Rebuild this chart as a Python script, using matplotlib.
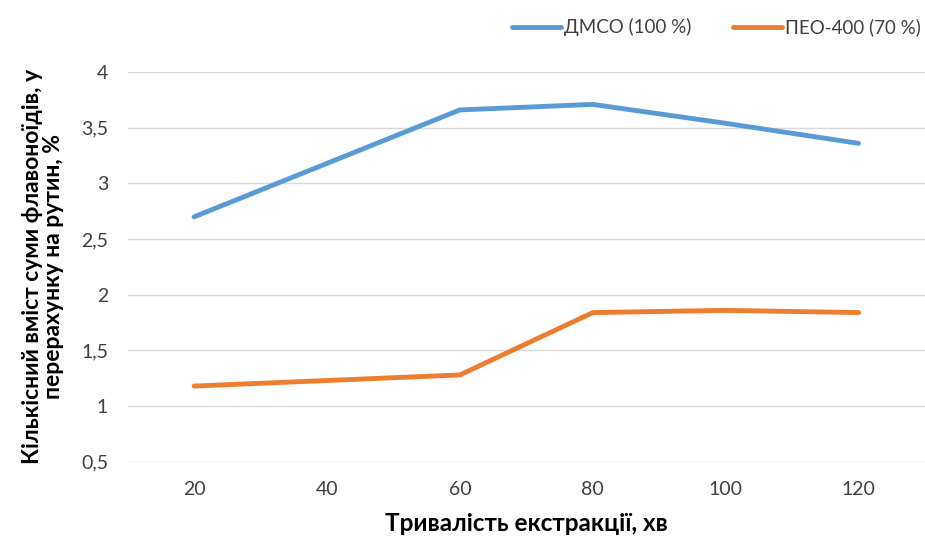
import matplotlib.pyplot as plt

minutes = [20, 40, 60, 80, 100, 120]
dmso = [2.70, 3.18, 3.66, 3.71, 3.54, 3.36]
peo = [1.18, 1.23, 1.28, 1.84, 1.86, 1.84]
yticks = [0.5, 1, 1.5, 2, 2.5, 3, 3.5, 4]

plt.rcParams['font.family'] = ['Lato', 'DejaVu Sans']

fig = plt.figure(figsize=(9.25, 5.42), dpi=100)
ax = fig.add_axes([0.138, 0.148, 0.862, 0.719])

ax.plot(minutes, dmso, color='#5B9BD5', lw=3.5, solid_capstyle='round', label='ДМСО (100 %)')
ax.plot(minutes, peo, color='#ED7D31', lw=3.5, solid_capstyle='round', label='ПЕО-400 (70 %)')

ax.set_xlim(10, 130)
ax.set_ylim(0.5, 4)
ax.set_xticks(minutes)
ax.set_yticks(yticks)
ax.set_yticklabels([str(v).replace('.', ',') for v in yticks])
ax.grid(axis='y', color='#D9D9D9', lw=1)
ax.set_axisbelow(True)
for s in ax.spines.values():
    s.set_visible(False)
ax.tick_params(length=0, labelsize=14, labelcolor='#404040')
ax.tick_params(axis='y', pad=14)
ax.tick_params(axis='x', pad=14)

ax.set_xlabel('Тривалість екстракції, хв', fontsize=17.5, fontweight='bold', labelpad=10)
ax.set_ylabel('Кількісний вміст суми флавоноїдів, у\nперерахунку на рутин, %',
              fontsize=16.5, fontweight='bold', labelpad=12, linespacing=1.0)

ax.legend(loc='center right', bbox_to_anchor=(1.0, 1.115), ncol=2, frameon=False,
          fontsize=13.5, labelcolor='#404040', handlelength=2.6, handletextpad=0.2,
          columnspacing=2.2, borderpad=0, borderaxespad=0.2)

fig.savefig('out.png', dpi=100)
